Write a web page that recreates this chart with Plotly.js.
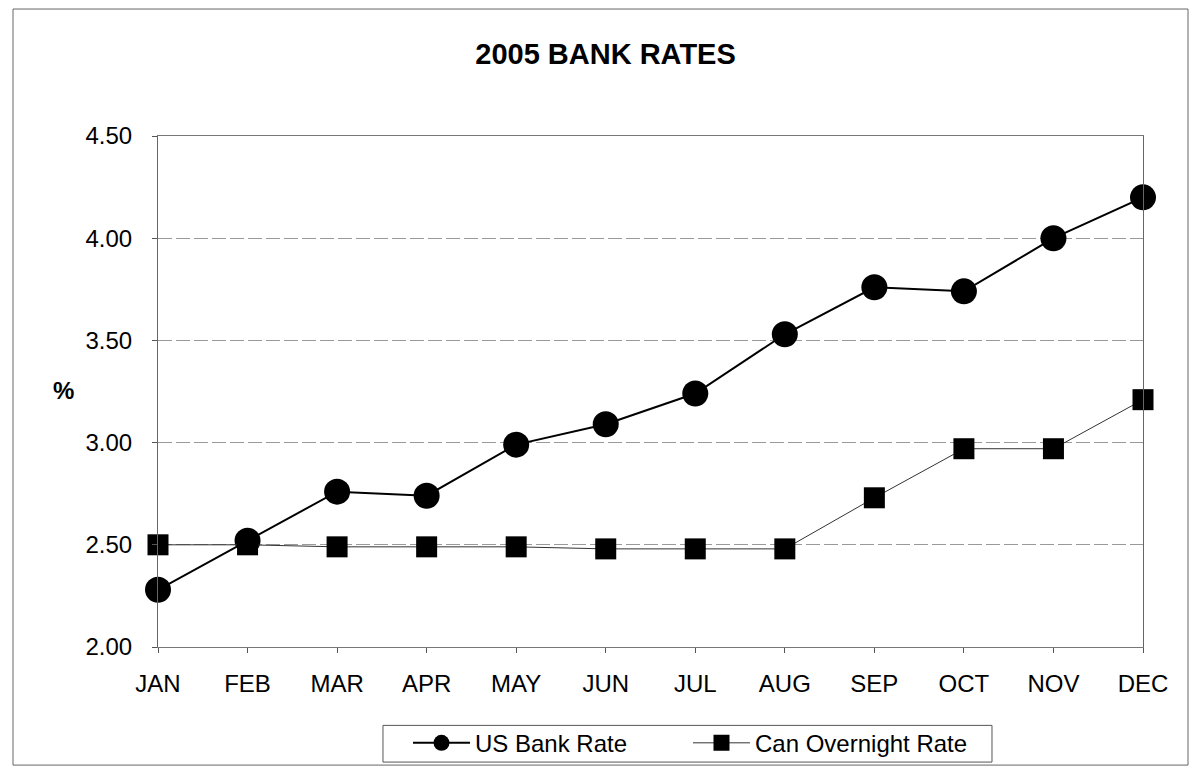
<!DOCTYPE html>
<html>
<head>
<meta charset="utf-8">
<script src="https://cdn.plot.ly/plotly-3.0.1.min.js"></script>
<style>
html,body{margin:0;padding:0;background:#fff;}
#chart{width:1192px;height:778px;}
</style>
</head>
<body>
<div id="chart"></div>
<script>
var months = ["JAN","FEB","MAR","APR","MAY","JUN","JUL","AUG","SEP","OCT","NOV","DEC"];
var usBankRate = [2.28, 2.52, 2.76, 2.74, 2.99, 3.09, 3.24, 3.53, 3.76, 3.74, 4.00, 4.20];
var canOvernightRate = [2.50, 2.50, 2.49, 2.49, 2.49, 2.48, 2.48, 2.48, 2.73, 2.97, 2.97, 3.21];
var yTicks = [2.00, 2.50, 3.00, 3.50, 4.00, 4.50];
var yTickLabels = ["2.00", "2.50", "3.00", "3.50", "4.00", "4.50"];

var font = "Liberation Sans, Arial, sans-serif";

var traces = [
  {
    x: months, y: usBankRate, name: "US Bank Rate", type: "scatter", mode: "lines+markers",
    line: {color: "#000", width: 2},
    marker: {symbol: "circle", size: 26, color: "#000"},
    cliponaxis: false
  },
  {
    x: months, y: canOvernightRate, name: "Can Overnight Rate", type: "scatter", mode: "lines+markers",
    line: {color: "#333", width: 1},
    marker: {symbol: "square", size: 21, color: "#000"},
    cliponaxis: false
  }
];

var layout = {
  width: 1192, height: 778,
  margin: {l: 158, r: 49, t: 136, b: 127},
  paper_bgcolor: "#fff", plot_bgcolor: "#fff",
  showlegend: true,
  title: {text: "<b>2005 BANK RATES</b>", font: {family: font, size: 29, color: "#000"},
          x: 0.508, xanchor: "center", y: 0.9306, yanchor: "middle"},
  xaxis: {
    type: "category", range: [0, 11],
    showgrid: false, zeroline: false,
    showline: true, linecolor: "#777", linewidth: 1, mirror: true,
    ticks: "outside", ticklen: 5, tickcolor: "#555",
    ticklabelstandoff: 10,
    tickfont: {family: font, size: 24, color: "#000"},
    tickangle: 0
  },
  yaxis: {
    range: [2.0, 4.5],
    tickvals: yTicks, ticktext: yTickLabels,
    showgrid: true, gridcolor: "#999", gridwidth: 1, griddash: "14px,4px",
    zeroline: false,
    showline: true, linecolor: "#666", linewidth: 1, mirror: true,
    ticks: "outside", ticklen: 5, tickcolor: "#555",
    ticklabelstandoff: 15,
    tickfont: {family: font, size: 24, color: "#000"}
  },
  legend: {
    orientation: "h", x: 0.2538, xanchor: "left", y: -0.1883, yanchor: "middle",
    borderwidth: 0, bgcolor: "rgba(0,0,0,0)",
    font: {family: font, size: 24, color: "#000"},
    itemwidth: 57, entrywidth: 208
  },
  annotations: [
    {text: "<b>%</b>", xref: "paper", yref: "paper", x: -0.1086, y: 0.501,
     showarrow: false, font: {family: font, size: 24, color: "#000"}}
  ],
  shapes: [
    {type: "rect", xref: "paper", yref: "paper",
     x0: -0.1472, x1: 1.0457, y0: -0.2311, y1: 1.2485,
     line: {color: "#666", width: 1}, fillcolor: "rgba(0,0,0,0)", layer: "below"},
    {type: "rect", xref: "paper", yref: "paper",
     x0: 0.2284, x1: 0.8467, y0: -0.2252, y1: -0.1534,
     line: {color: "#555", width: 1}, fillcolor: "rgba(0,0,0,0)", layer: "below"}
  ]
};

Plotly.newPlot("chart", traces, layout, {displayModeBar: false, staticPlot: true});
</script>
</body>
</html>
